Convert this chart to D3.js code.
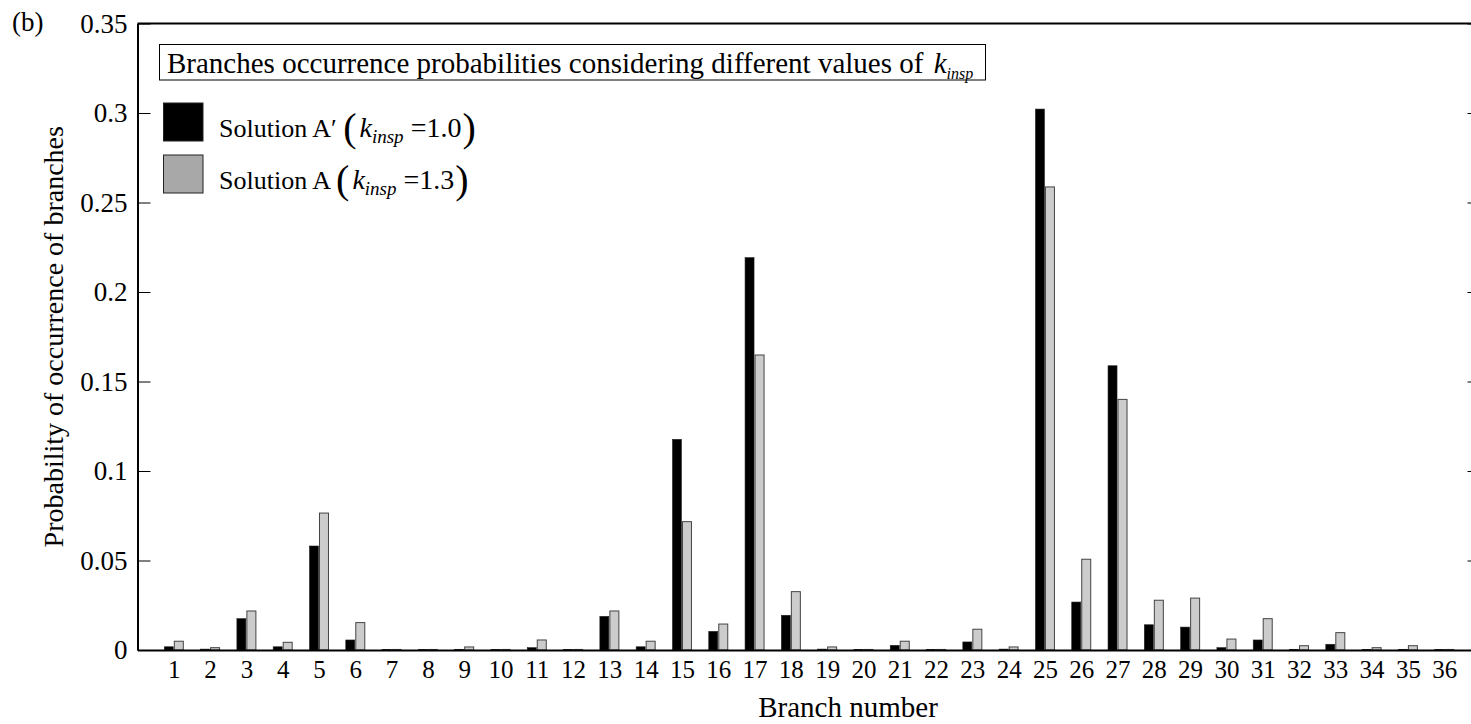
<!DOCTYPE html>
<html>
<head>
<meta charset="utf-8">
<script src="https://cdnjs.cloudflare.com/ajax/libs/d3/7.8.5/d3.min.js"></script>
<style>
  body { margin:0; background:#fff; }
  svg { display:block; }
  text { font-family:"Liberation Serif","Times New Roman",serif; fill:#000; }
</style>
</head>
<body>
<div id="canvas"></div>
<script>
// branch numbers on the x axis
var branches = [1,2,3,4,5,6,7,8,9,10,11,12,13,14,15,16,17,18,19,20,21,22,23,24,25,26,27,28,29,30,31,32,33,34,35,36];

// Solution A' (k_insp = 1.0) - black bars
var solAprime = [0.0018,0.0005,0.0175,0.0018,0.0581,0.0056,0.0003,0.0003,0.0004,0.0003,0.0013,0.0003,
                 0.0188,0.0018,0.1177,0.0104,0.2192,0.0194,0.0005,0.0003,0.0026,0.0003,0.0045,0.0005,
                 0.3022,0.0268,0.1588,0.0141,0.0128,0.0013,0.0056,0.0004,0.0032,0.0003,0.0004,0.0003];

// Solution A (k_insp = 1.3) - grey bars
var solA = [0.0049,0.0013,0.0218,0.0043,0.0765,0.0153,0.0003,0.0003,0.0017,0.0003,0.0056,0.0003,
            0.0218,0.0049,0.0717,0.0145,0.1648,0.0326,0.0017,0.0003,0.0049,0.0003,0.0116,0.0017,
            0.2587,0.0507,0.1400,0.0278,0.0290,0.0061,0.0175,0.0024,0.0097,0.0013,0.0024,0.0003];

var yTicks = [0,0.05,0.1,0.15,0.2,0.25,0.3,0.35];
var yTickLabels = ['0','0.05','0.1','0.15','0.2','0.25','0.3','0.35'];

var W = 1471, H = 724;
var svg = d3.select('#canvas').append('svg')
    .attr('width', W).attr('height', H);

// plot box (right edge runs just past the window, as in the figure)
var m = {l:137.5, r:1480.5, t:23.5, b:650};

var scaleX = d3.scaleLinear().domain([0,37]).range([m.l,m.r]);
var scaleY = d3.scaleLinear().domain([0,0.35]).range([m.b,m.t]);

var barW = 9;

// bars
var plot = svg.append('g');
plot.selectAll('rect.a1').data(solAprime).enter().append('rect')
    .attr('class','a1')
    .attr('x', function(d,i){ return scaleX(branches[i]) - 0.5 - barW; })
    .attr('width', barW)
    .attr('y', function(d){ return scaleY(d); })
    .attr('height', function(d){ return m.b - scaleY(d); })
    .style('fill','#000').style('stroke','#222').style('stroke-width',0.6);

plot.selectAll('rect.a').data(solA).enter().append('rect')
    .attr('class','a')
    .attr('x', function(d,i){ return scaleX(branches[i]) + 0.5; })
    .attr('width', barW)
    .attr('y', function(d){ return scaleY(d); })
    .attr('height', function(d){ return m.b - scaleY(d); })
    .style('fill','#cccccc').style('stroke','#444').style('stroke-width',1);

// axes
var axisL = d3.axisLeft(scaleY).tickValues(yTicks)
    .tickFormat(function(d,i){ return yTickLabels[i]; })
    .tickSizeInner(-13).tickSizeOuter(0).tickPadding(10);
var gL = svg.append('g').attr('transform','translate('+m.l+',0)').call(axisL);
gL.selectAll('text').style('font-family','Liberation Serif').style('font-size','27px');

var axisR = d3.axisRight(scaleY).tickValues(yTicks).tickFormat('')
    .tickSizeInner(-13).tickSizeOuter(0);
svg.append('g').attr('transform','translate('+m.r+',0)').call(axisR);

var axisB = d3.axisBottom(scaleX).tickValues(branches)
    .tickSize(0).tickPadding(10);
var gB = svg.append('g').attr('transform','translate(0,'+m.b+')').call(axisB);
gB.selectAll('text').style('font-family','Liberation Serif').style('font-size','25px');

// top border
svg.append('line').attr('x1',m.l).attr('x2',m.r).attr('y1',m.t).attr('y2',m.t)
    .style('stroke','#000').style('stroke-width',2);

svg.selectAll('.domain').style('stroke','#000').style('stroke-width',2);
svg.selectAll('.tick line').style('stroke','#000').style('stroke-width',1);

// labels
svg.append('text').attr('x',12).attr('y',31).style('font-size','27px').text('(b)');

svg.append('text').attr('x',848).attr('y',717).attr('text-anchor','middle')
    .style('font-size','29px').text('Branch number');

svg.append('text')
    .attr('transform','translate(63,'+((m.t+m.b)/2)+') rotate(-90)')
    .attr('text-anchor','middle')
    .style('font-size','28px').text('Probability of occurrence of branches');

// legend title box
svg.append('rect').attr('x',159.5).attr('y',44.5).attr('width',826).attr('height',35.5)
    .style('fill','#fff').style('stroke','#000').style('stroke-width',1);
var tt = svg.append('text').attr('x',167).attr('y',73).style('font-size','29px');
tt.append('tspan').text('Branches occurrence probabilities considering different values of ');
tt.append('tspan').attr('dx',3).style('font-style','italic').text('k');
tt.append('tspan').attr('dy',6).style('font-style','italic').style('font-size','16px').text('insp');

// legend entries
var legNames = ["Solution A\u2032 ", "Solution A "];
var legK = ['1.0','1.3'];
var legColors = ['#000','#a8a8a8'];
legNames.forEach(function(name,i){
    var y0 = 103 + i*52;
    svg.append('rect').attr('x',163.5).attr('y',y0).attr('width',39.5).attr('height',38)
        .style('fill',legColors[i]).style('stroke','#222').style('stroke-width',1);
    var t = svg.append('text').attr('x',219).attr('y',y0+34).style('font-size','26px');
    t.append('tspan').text(name);
    t.append('tspan').attr('dy',4).style('font-size','40px').style('font-weight','200').text('(');
    t.append('tspan').attr('dx',3).attr('dy',-4).style('font-style','italic').style('font-size','28px').text('k');
    t.append('tspan').attr('dy',6).style('font-style','italic').style('font-size','19px').text('insp');
    t.append('tspan').attr('dy',-6).style('font-size','28px').text(' =' + legK[i]);
    t.append('tspan').attr('dx',1).attr('dy',4).style('font-size','40px').style('font-weight','200').text(')');
});
</script>
</body>
</html>
